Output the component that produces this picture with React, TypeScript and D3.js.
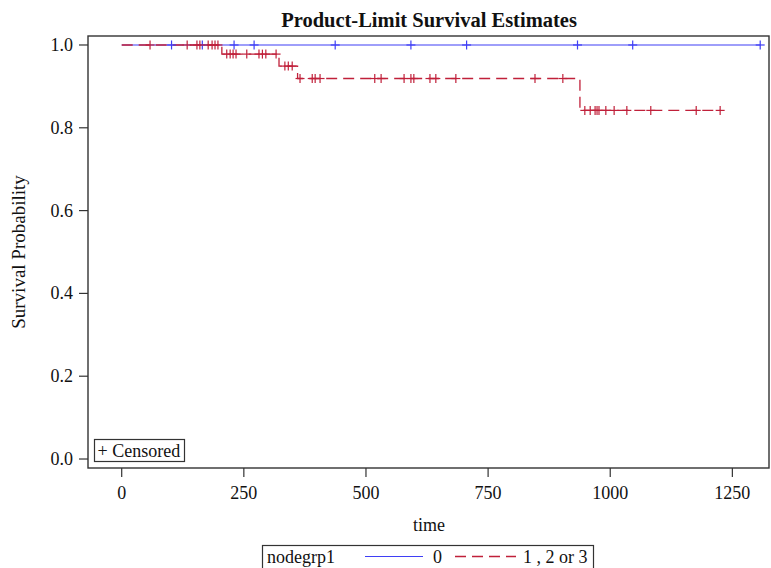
import * as d3 from 'd3';
import React from 'react';

// group 0 : no events, censored only
const blueCensorTimes = [102, 165, 230, 271, 437, 592, 706, 933, 1046, 1307];
const blueEndTime = 1307;

// group 1,2 or 3 : event times and survival after each event
const redEventTimes = [0, 205, 322, 360, 938];
const redSurvival = [1.0, 0.978, 0.949, 0.919, 0.842];
const redEndTime = 1225;
const redCensorTimes = [
  58, 134, 154, 160, 177, 185, 191, 197,
  215, 222, 228, 234, 256, 281, 288, 295, 316,
  334, 341, 349,
  365, 390, 396, 406, 518, 531, 578, 592, 598, 631, 643, 684, 846, 903,
  948, 959, 969, 973, 977, 991, 1008, 1034, 1083, 1176, 1225,
];

const xTicks = [0, 250, 500, 750, 1000, 1250];
const yTicks = [0, 0.2, 0.4, 0.6, 0.8, 1.0];

const W = 771;
const H = 568;
const frame = { left: 88, right: 769, top: 36, bottom: 468 };
const BLUE = '#3f3ff5';
const RED = '#c0203a';
const FONT = '"Liberation Serif", "Times New Roman", serif';

const App = () => {
  const x = d3.scaleLinear().domain([-69, 1325]).range([frame.left, frame.right]);
  const y = d3.scaleLinear().domain([-0.0217, 1.0217]).range([frame.bottom, frame.top]);

  const stepLine = d3.line<[number, number]>()
    .x(d => x(d[0]))
    .y(d => y(d[1]))
    .curve(d3.curveStepAfter);

  const redPts: [number, number][] = redEventTimes.map((t, i) => [t, redSurvival[i]] as [number, number]);
  redPts.push([redEndTime, redSurvival[redSurvival.length - 1]]);
  const bluePts: [number, number][] = [[0, 1], [blueEndTime, 1]];

  const redAt = (t: number) => {
    let s = 1;
    redEventTimes.forEach((et, i) => { if (et <= t) s = redSurvival[i]; });
    return s;
  };

  const plus = (cx: number, cy: number, color: string, key: string) => (
    <g key={key} stroke={color} strokeWidth={1.2}>
      <line x1={cx - 4.5} x2={cx + 4.5} y1={cy} y2={cy} />
      <line x1={cx} x2={cx} y1={cy - 4.5} y2={cy + 4.5} />
    </g>
  );

  return (
    <svg width={W} height={H} style={{ position: 'absolute', left: 0, top: 0 }} fontFamily={FONT}>
      <rect width={W} height={H} fill="#fff" />
      <text x={429} y={27} textAnchor="middle" fontSize={20.5} fontWeight="bold" fill="#111">
        Product-Limit Survival Estimates
      </text>

      {/* curves */}
      <path d={stepLine(bluePts) || ''} fill="none" stroke={BLUE} strokeWidth={1.2} />
      <path d={stepLine(redPts) || ''} fill="none" stroke={RED} strokeWidth={1.3} strokeDasharray="11,6" />

      {blueCensorTimes.map((t, i) => plus(x(t), y(1), BLUE, 'b' + i))}
      {redCensorTimes.map((t, i) => plus(x(t), y(redAt(t)), RED, 'r' + i))}

      {/* frame */}
      <rect x={frame.left} y={frame.top} width={frame.right - frame.left} height={frame.bottom - frame.top}
        fill="none" stroke="#333" strokeWidth={1.4} />

      {/* y axis */}
      {yTicks.map(v => (
        <g key={'y' + v}>
          <line x1={frame.left - 9} x2={frame.left} y1={y(v)} y2={y(v)} stroke="#333" strokeWidth={1.2} />
          <text x={frame.left - 15} y={y(v) + 6} textAnchor="end" fontSize={18} fill="#111">
            {d3.format('.1f')(v)}
          </text>
        </g>
      ))}
      <text transform={`translate(25,252) rotate(-90)`} textAnchor="middle" fontSize={19} fill="#111">
        Survival Probability
      </text>

      {/* x axis */}
      {xTicks.map(v => (
        <g key={'x' + v}>
          <line x1={x(v)} x2={x(v)} y1={frame.bottom} y2={frame.bottom + 9} stroke="#333" strokeWidth={1.2} />
          <text x={x(v)} y={499} textAnchor="middle" fontSize={18} fill="#111">{v}</text>
        </g>
      ))}
      <text x={429} y={531} textAnchor="middle" fontSize={18} fill="#111">time</text>

      {/* censored key */}
      <rect x={94.5} y={439.5} width={90} height={22} fill="#fff" stroke="#333" strokeWidth={1.2} />
      <text x={97.5} y={456.5} fontSize={18} fill="#111">+ Censored</text>

      {/* group legend */}
      <rect x={262.5} y={545.5} width={331} height={30} fill="#fff" stroke="#333" strokeWidth={1.2} />
      <text x={267} y={563} fontSize={18} fill="#111">nodegrp1</text>
      <line x1={365} x2={423} y1={556.5} y2={556.5} stroke={BLUE} strokeWidth={1.2} />
      <text x={433} y={563} fontSize={18} fill="#111">0</text>
      <line x1={455} x2={516} y1={556.5} y2={556.5} stroke={RED} strokeWidth={1.3} strokeDasharray="11,6" />
      <text x={523} y={563} fontSize={18} fill="#111">1 , 2 or 3</text>
    </svg>
  );
};

export default App;
